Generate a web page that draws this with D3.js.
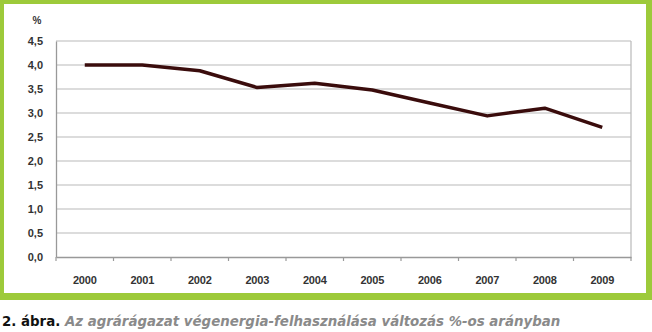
<!DOCTYPE html>
<html><head><meta charset="utf-8">
<script src="https://cdn.jsdelivr.net/npm/d3@7"></script>
<style>body{margin:0;background:#fff}svg{display:block}</style>
</head><body>
<svg id="c" width="652" height="332"></svg>
<script>
const years = ["2000","2001","2002","2003","2004","2005","2006","2007","2008","2009"];
const values = [4.0, 4.0, 3.88, 3.53, 3.62, 3.48, 3.21, 2.94, 3.10, 2.70];
const yTicks = [0, 0.5, 1.0, 1.5, 2.0, 2.5, 3.0, 3.5, 4.0, 4.5];
const unitLabel = "%";
const captionBold = "2. ábra.";
const captionText = " Az agrárágazat végenergia-felhasználása változás %-os arányban";

const svg = d3.select("#c");
const green = "#9dca3a";
// green frame
svg.append("rect").attr("x",0).attr("y",0).attr("width",652).attr("height",300).attr("fill",green);
svg.append("rect").attr("x",4).attr("y",4).attr("width",642).attr("height",289).attr("fill","#fff");

const L=56, R=631, T=41, B=257;
const x = d3.scaleBand().domain(years).range([L,R]);
const y = d3.scaleLinear().domain([0,4.5]).range([B,T]);
const fmt = d => d.toFixed(1).replace(".",",");

// gridlines
svg.append("g").selectAll("line").data(yTicks.filter(d=>d>0)).join("line")
  .attr("x1",L).attr("x2",R).attr("y1",d=>y(d)).attr("y2",d=>y(d))
  .attr("stroke","#b9b9b9").attr("stroke-width",1.2);
// right border
svg.append("line").attr("x1",R).attr("x2",R).attr("y1",T).attr("y2",B).attr("stroke","#b9b9b9").attr("stroke-width",1.2);

// y axis
const ya = svg.append("g").attr("transform",`translate(${L},0)`)
  .call(d3.axisLeft(y).tickValues(yTicks).tickFormat(fmt).tickSize(0).tickPadding(13));
ya.select(".domain").attr("stroke","#999").attr("stroke-width",1.3);
ya.selectAll("text").attr("font-family","Liberation Sans, Arial, sans-serif").attr("font-size",11)
  .attr("font-weight","bold").attr("fill","#333");

// x axis
const xa = svg.append("g").attr("transform",`translate(0,${B})`)
  .call(d3.axisBottom(x).tickSize(0).tickPadding(19));
xa.select(".domain").attr("stroke","#999").attr("stroke-width",1.3);
xa.selectAll("text").attr("font-family","Liberation Sans, Arial, sans-serif").attr("font-size",11)
  .attr("font-weight","bold").attr("fill","#333").attr("letter-spacing","-0.2");
// boundary ticks
const bounds = years.map(d=>x(d)).concat([R]);
svg.append("g").selectAll("line").data(bounds).join("line")
  .attr("x1",d=>d).attr("x2",d=>d).attr("y1",B).attr("y2",B+4)
  .attr("stroke","#999").attr("stroke-width",1.2);

// unit label
svg.append("text").attr("x",37).attr("y",24).attr("text-anchor","middle")
  .attr("font-family","Liberation Sans, Arial, sans-serif").attr("font-size",10).attr("font-weight","bold")
  .attr("fill","#333").text(unitLabel);

// line
const line = d3.line().x((d,i)=>x(years[i])+x.bandwidth()/2).y(d=>y(d));
svg.append("path").datum(values).attr("d",line).attr("fill","none")
  .attr("stroke","#3a0c0c").attr("stroke-width",3.5).attr("stroke-linejoin","round");

// caption
const cap = svg.append("text").attr("x",2).attr("y",326)
  .attr("font-family","DejaVu Sans Condensed, DejaVu Sans, sans-serif").attr("font-size",14.85).attr("font-weight","bold");
cap.append("tspan").attr("fill","#111").text(captionBold);
cap.append("tspan").attr("fill","#8a8a8a").attr("font-style","italic").text(captionText);
</script>
</body></html>
